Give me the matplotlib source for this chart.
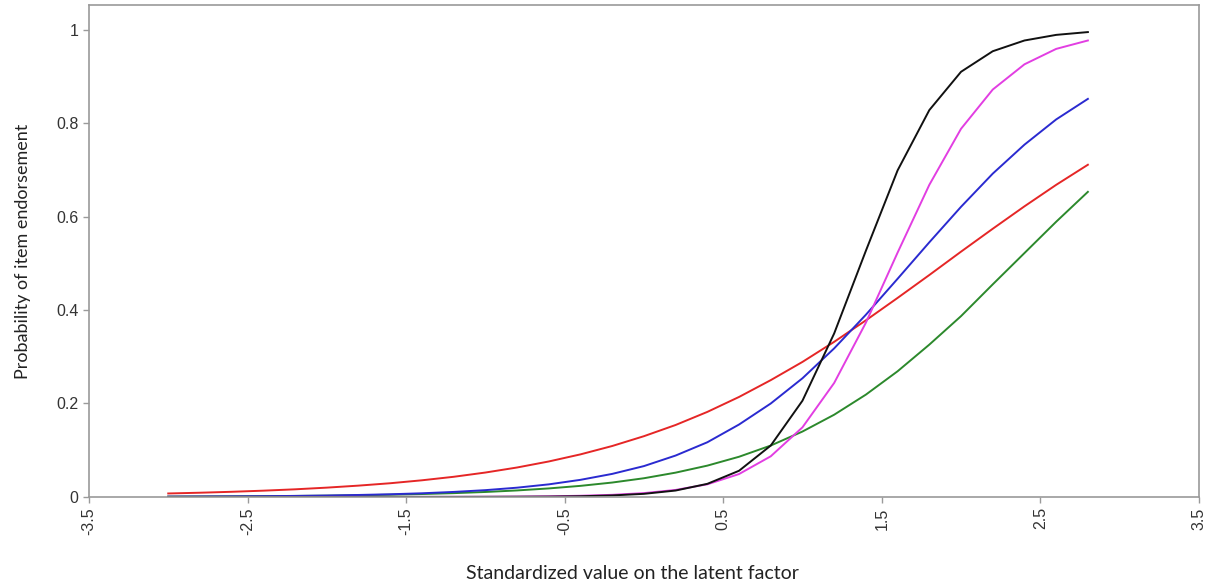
import matplotlib
matplotlib.use("Agg")
import matplotlib.pyplot as plt

# latent factor values (step 0.2)
x = [-3.0, -2.8, -2.6, -2.4, -2.2, -2.0, -1.8, -1.6, -1.4, -1.2,
     -1.0, -0.8, -0.6, -0.4, -0.2, 0.0, 0.2, 0.4, 0.6, 0.8,
     1.0, 1.2, 1.4, 1.6, 1.8, 2.0, 2.2, 2.4, 2.6, 2.8]

red = [0.0074, 0.0090, 0.0110, 0.0134, 0.0163, 0.0199, 0.0242, 0.0293, 0.0356, 0.0431,
       0.0522, 0.0630, 0.0759, 0.0911, 0.109, 0.130, 0.154, 0.182, 0.214, 0.250,
       0.289, 0.332, 0.378, 0.426, 0.475, 0.525, 0.574, 0.622, 0.668, 0.711]

blue = [0.0006, 0.0009, 0.0012, 0.0016, 0.0022, 0.0030, 0.0042, 0.0057, 0.0078, 0.0107,
        0.0145, 0.0198, 0.0269, 0.0366, 0.0493, 0.066, 0.0886, 0.117, 0.155, 0.200,
        0.254, 0.318, 0.390, 0.467, 0.545, 0.621, 0.692, 0.754, 0.808, 0.852]

green = [0.0007, 0.0009, 0.0012, 0.0016, 0.0021, 0.0027, 0.0036, 0.0047, 0.0062, 0.0081,
         0.0106, 0.0139, 0.0182, 0.0237, 0.0308, 0.040, 0.052, 0.067, 0.086, 0.110,
         0.140, 0.176, 0.219, 0.269, 0.326, 0.387, 0.455, 0.522, 0.589, 0.653]

black = [0.0, 0.0, 0.0, 0.0, 0.0, 0.0, 0.0, 0.0, 0.0001, 0.0001,
         0.0002, 0.0004, 0.0007, 0.0015, 0.0032, 0.0066, 0.0137, 0.028, 0.056, 0.110,
         0.206, 0.350, 0.527, 0.699, 0.828, 0.910, 0.954, 0.977, 0.989, 0.995]

magenta = [0.0, 0.0, 0.0, 0.0, 0.0, 0.0, 0.0001, 0.0001, 0.0001, 0.0002,
           0.0004, 0.0007, 0.0013, 0.0025, 0.0045, 0.0082, 0.015, 0.027, 0.049, 0.087,
           0.149, 0.244, 0.373, 0.523, 0.668, 0.788, 0.872, 0.926, 0.959, 0.977]

xticks = [-3.5, -2.5, -1.5, -0.5, 0.5, 1.5, 2.5, 3.5]
yticks = [0, 0.2, 0.4, 0.6, 0.8, 1]
ytick_labels = ["0", "0.2", "0.4", "0.6", "0.8", "1"]

fig = plt.figure(figsize=(12.17, 5.86), dpi=100)
ax = fig.add_axes([0.0731, 0.152, 0.912, 0.8395])

lw = 1.4
ax.plot(x, red, color="#e52626", lw=lw)
ax.plot(x, green, color="#2c892c", lw=lw)
ax.plot(x, blue, color="#2a2ad0", lw=lw)
ax.plot(x, magenta, color="#e23ee2", lw=lw)
ax.plot(x, black, color="#111111", lw=lw)

ax.set_xlim(-3.5, 3.5)
ax.set_ylim(0, 1.053)
ax.set_xticks(xticks)
ax.set_xticklabels([str(t) for t in xticks], rotation=90)
ax.set_yticks(yticks)
ax.set_yticklabels(ytick_labels)

for s in ax.spines.values():
    s.set_color("#9a9a9a")
    s.set_linewidth(1.2)
ax.tick_params(axis="both", colors="#9a9a9a", length=4, width=1,
               labelsize=11.5, labelcolor="#333333")
for lab in ax.get_xticklabels() + ax.get_yticklabels():
    lab.set_family("Liberation Sans")

ax.set_ylabel("Probability of item endorsement", fontsize=13, family="Lato",
              color="#222222", labelpad=18)
fig.text(0.52, 0.012, "Standardized value on the latent factor", fontsize=14,
         family="Lato", color="#222222", ha="center")

fig.savefig("out.png", dpi=100)
